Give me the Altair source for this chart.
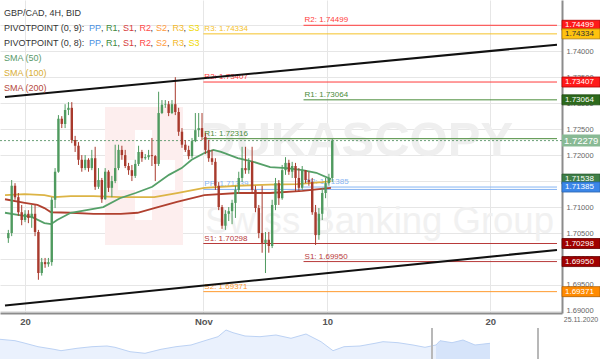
import altair as alt
import pandas as pd

FONT = "Liberation Sans"

# ---------------- candle data (GBP/CAD 4H) ----------------
first_open = 1.7040
closes = [1.7050, 1.7141, 1.7119, 1.7090, 1.7075, 1.7087, 1.7079, 1.7087, 1.7052, 1.6973,
          1.6994, 1.6990, 1.6994, 1.7114, 1.7168, 1.7270, 1.7260, 1.7287, 1.7291, 1.7229,
          1.7218, 1.7191, 1.7175, 1.7191, 1.7175, 1.7194, 1.7139, 1.7152, 1.7115, 1.7168,
          1.7137, 1.7150, 1.7175, 1.7210, 1.7200, 1.7179, 1.7171, 1.7160, 1.7183, 1.7206,
          1.7194, 1.7196, 1.7200, 1.7198, 1.7183, 1.7281, 1.7297, 1.7298, 1.7281, 1.7298,
          1.7283, 1.7245, 1.7220, 1.7210, 1.7198, 1.7227, 1.7248, 1.7252, 1.7235, 1.7210,
          1.7194, 1.7187, 1.7141, 1.7100, 1.7064, 1.7087, 1.7092, 1.7108, 1.7133, 1.7156,
          1.7175, 1.7171, 1.7187, 1.7133, 1.7098, 1.7050, 1.7031, 1.7037, 1.7025, 1.7104,
          1.7146, 1.7117, 1.7171, 1.7185, 1.7168, 1.7179, 1.7156, 1.7137, 1.7171, 1.7152,
          1.7148, 1.7090, 1.7046, 1.7087, 1.7127, 1.7146, 1.7156, 1.72279]
highs = [1.7056, 1.7152, 1.7146, 1.7127, 1.7104, 1.7094, 1.7094, 1.7104, 1.7104, 1.7056,
         1.7002, 1.7002, 1.7002, 1.7119, 1.7175, 1.7277, 1.7275, 1.7298, 1.7302, 1.7302,
         1.7237, 1.7225, 1.7200, 1.7200, 1.7194, 1.7210, 1.7216, 1.7175, 1.7156, 1.7175,
         1.7171, 1.7160, 1.7220, 1.7220, 1.7218, 1.7210, 1.7185, 1.7181, 1.7191, 1.7218,
         1.7210, 1.7202, 1.7210, 1.7233, 1.7200, 1.7322, 1.7306, 1.7306, 1.7304, 1.7306,
         1.7350, 1.7291, 1.7252, 1.7229, 1.7218, 1.7233, 1.7281, 1.7281, 1.7281, 1.7243,
         1.7229, 1.7210, 1.7194, 1.7148, 1.7104, 1.7094, 1.7100, 1.7114, 1.7141, 1.7168,
         1.7216, 1.7216, 1.7194, 1.7216, 1.7141, 1.7104, 1.7141, 1.7052, 1.7052, 1.7114,
         1.7156, 1.7152, 1.7181, 1.7196, 1.7191, 1.7187, 1.7185, 1.7175, 1.7179, 1.7171,
         1.7168, 1.7156, 1.7104, 1.7098, 1.7137, 1.7156, 1.7164, 1.7231]
lows = [1.7031, 1.7044, 1.7114, 1.7083, 1.7065, 1.7071, 1.7069, 1.7060, 1.7044, 1.6960,
        1.6968, 1.6983, 1.6985, 1.6987, 1.7098, 1.7166, 1.7252, 1.7252, 1.7277, 1.7223,
        1.7206, 1.7181, 1.7168, 1.7171, 1.7168, 1.7171, 1.7133, 1.7135, 1.7108, 1.7114,
        1.7129, 1.7119, 1.7146, 1.7171, 1.7191, 1.7175, 1.7162, 1.7150, 1.7156, 1.7179,
        1.7187, 1.7191, 1.7191, 1.7179, 1.7150, 1.7179, 1.7279, 1.7291, 1.7275, 1.7279,
        1.7277, 1.7237, 1.7214, 1.7206, 1.7192, 1.7194, 1.7225, 1.7235, 1.7229, 1.7202,
        1.7187, 1.7181, 1.7133, 1.7094, 1.7058, 1.7056, 1.7073, 1.7067, 1.7079, 1.7125,
        1.7148, 1.7164, 1.7164, 1.7127, 1.7090, 1.7040, 1.7012, 1.6973, 1.7012, 1.7021,
        1.7094, 1.7104, 1.7114, 1.7162, 1.7162, 1.7156, 1.7129, 1.7129, 1.7133, 1.7146,
        1.7141, 1.7085, 1.7027, 1.7037, 1.7075, 1.7117, 1.7141, 1.7148]

# x-axis (candle index) ticks and labels
x_tick_pos = [5.0, 58.4, 95.5, 144.3]
x_tick_labels = ["20", "Nov", "10", "20"]
y_tick_values = [1.690, 1.695, 1.700, 1.705, 1.710, 1.715, 1.720, 1.725, 1.730, 1.735, 1.740, 1.745]

# moving averages
sma50_k = [-1, 2.8, 7, 10.8, 12.8, 14.6, 18.7, 23.4, 28.4, 33.4, 38.1, 43.1, 48.1, 51.9, 54.9,
           58.7, 61.4, 63.7, 68.7, 73.4, 78.4, 83.4, 88.1, 92.2, 96.6]
sma50 = [1.7089, 1.7085, 1.7081, 1.7069, 1.7067, 1.7075, 1.7089, 1.7094, 1.7100, 1.7117,
         1.7127, 1.7139, 1.7162, 1.7175, 1.7191, 1.7204, 1.7210, 1.7206, 1.7194, 1.7187,
         1.7177, 1.7175, 1.7171, 1.7166, 1.71538]
sma100_k = [-1, 4.9, 10.8, 13.7, 18.7, 25.5, 33.7, 43.7, 50.5, 58.7, 68.7, 78.4, 86.4, 94, 96.6]
sma100 = [1.7123, 1.7125, 1.7123, 1.7119, 1.7121, 1.7121, 1.7119, 1.7119, 1.7127, 1.7137,
          1.7141, 1.7143, 1.7144, 1.7148, 1.7150]
sma200_k = [-1, 4.9, 8.7, 10.8, 12.8, 18.7, 25.5, 33.7, 38.7, 43.7, 50.5, 58.7, 68.7, 78.4, 88.1, 96.6]
sma200 = [1.7115, 1.7108, 1.7104, 1.7098, 1.7090, 1.7089, 1.7087, 1.7087, 1.7089, 1.7098,
          1.7110, 1.7123, 1.7127, 1.7127, 1.7131, 1.7137]

# pivot points
pivot9_names = ["R3", "R2", "R1", "PP", "S1", "S2"]
pivot9_values = [1.74334, 1.73407, 1.72316, 1.71339, 1.70298, 1.69371]
pivot9_start = 58.4
pivot8_names = ["R2", "R1", "PP", "S1"]
pivot8_values = [1.74499, 1.73064, 1.71385, 1.69950]
pivot8_start = 88.4
pivot_colors = {"R3": "#f5c228", "R2": "#ff3b3b", "R1": "#4a8c3a", "PP": "#86b4f2",
                "S1": "#b83a3a", "S2": "#ff9a2e"}

# channel lines
channel_k = [-1, 164.3]
upper_channel = [1.73119, 1.74126]
lower_channel = [1.69105, 1.70174]

last_price = 1.72279

# right-hand price tags
tag_values = [1.74499, 1.74334, 1.73407, 1.73064, 1.72279, 1.71538, 1.71385, 1.70298, 1.69950, 1.69371]
tag_bg = ["#ff1a1a", "#ffc20e", "#ff1a1a", "#2d6a1c", "#88b994", "#3f7f47", "#3b86e8",
          "#a00000", "#a00000", "#ff8a00"]
tag_border = ["#b00000", "#b07800", "#b00000", "#1c4a10", "#6a9a76", "#2a5a30", "#2a64b0",
              "#600000", "#600000", "#b06000"]
tag_fg = ["#ffffff", "#333333", "#ffffff", "#ffffff", "#ffffff", "#ffffff", "#ffffff",
          "#ffffff", "#ffffff", "#ffffff"]
tag_big = [False, False, False, False, True, False, False, False, False, False]

# navigator (overview) line
nav_pos = [0, 15, 23, 38, 54, 61, 77, 92, 107, 115, 130, 145, 161, 176, 191, 207, 218, 226, 233,
           245, 260, 276, 291, 306, 321, 333, 344, 360, 375, 383, 398, 413, 425, 436, 440, 452,
           463, 475, 490]
nav_level = [19.7, 18.3, 16.3, 12.3, 9.7, 8.3, 10.7, 12.3, 13, 11.7, 7.3, 5.7, 9.7, 12.3, 14, 19,
             22.3, 29, 26.3, 23, 22.3, 24, 20.7, 25, 17.3, 8.3, 12.3, 13, 15.7, 17.3, 16.3, 14,
             11.7, 14, 18.3, 16.3, 19, 14, 15.7]
nav_separators = [432, 538]

# legend texts
header = "GBP/CAD, 4H, BID"
pivot_rows = ["PIVOTPOINT (0, 9):", "PIVOTPOINT (0, 8):"]
codes = ["PP", "R1", "S1", "R2", "S2", "R3", "S3"]
code_colors = ["#4a90e2", "#3d8b3d", "#d63b3b", "#ff4a4a", "#ff9a3c", "#f2b92c", "#f0d800"]
sma_names = ["SMA (50)", "SMA (100)", "SMA (200)"]
sma_colors = ["#5a9a6a", "#d8ad35", "#b5493c"]
date_label = "25.11.2020"

GREEN = "#4f9a5f"
RED = "#a83a2d"

# ---------------- scales / axes ----------------
W, H = 562, 313
xscale = alt.Scale(domain=[-1, 164.3], nice=False, zero=False)
yscale = alt.Scale(domain=[1.6896, 1.74986], nice=False, zero=False)

expr = "''"
for pos, lab in reversed(list(zip(x_tick_pos, x_tick_labels))):
    expr = f"abs(datum.value - {pos}) < 0.5 ? '{lab}' : ({expr})"

xaxis = alt.Axis(values=x_tick_pos, labelExpr=expr, title=None, grid=True, gridColor="#e6e6e6",
                 ticks=False, domain=True, domainColor="#8c8c8c", domainWidth=2,
                 labelFont=FONT, labelFontSize=9.5, labelFontWeight="bold", labelColor="#555555",
                 labelPadding=3, zindex=0)
yaxis = alt.Axis(orient="right", values=y_tick_values, format=".5f", title=None, grid=True,
                 gridColor="#e6e6e6", ticks=False, domain=True, domainColor="#8c8c8c",
                 domainWidth=2, labelFont=FONT, labelFontSize=7.5, labelColor="#666666",
                 labelPadding=4, labelOverlap=False, zindex=0)


def X(f):
    return alt.X(f, type="quantitative", scale=xscale, axis=xaxis)


def Y(f):
    return alt.Y(f, type="quantitative", scale=yscale, axis=yaxis)


# ---------------- data frames ----------------
opens = [first_open] + closes[:-1]
candles = pd.DataFrame({"k": list(range(len(closes))), "open": opens, "close": closes,
                        "high": highs, "low": lows})
candles["col"] = [GREEN if c >= o else RED for o, c in zip(opens, closes)]

piv = pd.DataFrame({
    "name": pivot9_names + pivot8_names,
    "value": pivot9_values + pivot8_values,
    "start": [pivot9_start] * len(pivot9_names) + [pivot8_start] * len(pivot8_names),
    "end": [channel_k[1]] * (len(pivot9_names) + len(pivot8_names)),
})
piv["col"] = piv["name"].map(pivot_colors)
piv["label"] = [f"{n}: {v:.5f}" for n, v in zip(piv["name"], piv["value"])]

chan = pd.DataFrame({"k": channel_k * 2, "price": upper_channel + lower_channel,
                     "line": ["up", "up", "low", "low"]})

tags = pd.DataFrame({"value": tag_values, "bg": tag_bg, "fg": tag_fg, "bd": tag_border,
                     "big": tag_big})
tags["label"] = [f"{v:.5f}" for v in tag_values]

price_df = pd.DataFrame({"price": [last_price]})

# ---------------- main layer ----------------
price_rule = alt.Chart(price_df).mark_rule(color="#6a9f78", strokeDash=[2, 2], strokeWidth=1).encode(
    y=Y("price"))

piv_rules = alt.Chart(piv).mark_rule(strokeWidth=1).encode(
    x=X("start"), x2="end:Q", y=Y("value"), color=alt.Color("col:N", scale=None))
piv_labels = alt.Chart(piv).mark_text(align="left", baseline="bottom", dx=1, dy=-1,
                                      font=FONT, fontSize=8).encode(
    x=X("start"), y=Y("value"), text="label:N", color=alt.Color("col:N", scale=None))


def sma_line(ks, vals, color):
    d = pd.DataFrame({"k": ks, "v": vals})
    return alt.Chart(d).mark_line(color=color, strokeWidth=1.8).encode(x=X("k"), y=Y("v"))


smas = [sma_line(sma200_k, sma200, "#b0402f"),
        sma_line(sma100_k, sma100, "#dcb445"),
        sma_line(sma50_k, sma50, "#55a068")]

wicks = alt.Chart(candles).mark_rule(strokeWidth=1).encode(
    x=X("k"), y=Y("low"), y2="high:Q", color=alt.Color("col:N", scale=None))
bodies = alt.Chart(candles).mark_bar(size=2.4).encode(
    x=X("k"), y=Y("open"), y2="close:Q", color=alt.Color("col:N", scale=None))

chan_lines = alt.Chart(chan).mark_line(color="#111111", strokeWidth=2).encode(
    x=X("k"), y=Y("price"), detail="line:N")

tag_boxes_small = alt.Chart(tags[~tags.big]).mark_tick(size=38, thickness=10, opacity=1,
                                                       strokeWidth=0.8).encode(
    x=alt.value(581), y=Y("value"), color=alt.Color("bg:N", scale=None),
    stroke=alt.Stroke("bd:N", scale=None))
tag_boxes_big = alt.Chart(tags[tags.big]).mark_tick(size=38, thickness=12, opacity=1).encode(
    x=alt.value(581), y=Y("value"), color=alt.Color("bg:N", scale=None))
tag_text_small = alt.Chart(tags[~tags.big]).mark_text(align="left", baseline="middle", font=FONT,
                                                     fontSize=8).encode(
    x=alt.value(565), y=Y("value"), text="label:N", color=alt.Color("fg:N", scale=None))
tag_text_big = alt.Chart(tags[tags.big]).mark_text(align="left", baseline="middle", font=FONT,
                                                  fontSize=9.5).encode(
    x=alt.value(564), y=Y("value"), text="label:N", color=alt.Color("fg:N", scale=None))

main = alt.layer(price_rule, piv_rules, piv_labels, *smas, wicks, bodies, chan_lines,
                 tag_boxes_small, tag_boxes_big, tag_text_small, tag_text_big)

# ---------------- pixel-space helper scales ----------------
px_x = alt.Scale(domain=[0, 600], range=[0, 600], nice=False, zero=False)
px_y = alt.Scale(domain=[0, 359], range=[0, 359], nice=False, zero=False)

# watermark (decoration)
wm_rects = pd.DataFrame({"x": [105, 135, 118], "x2": [183, 152, 175], "y": [107, 130, 160],
                         "y2": [245, 220, 190], "c": ["#fdeeee", "#ffffff", "#ffffff"]})
wm_big = pd.DataFrame({"x": [200], "y": [141], "t": ["DUKASCOPY"]})
wm_small = pd.DataFrame({"x": [205], "y": [222], "t": ["Swiss Banking Group"]})
wm = alt.layer(
    alt.Chart(wm_rects).mark_rect().encode(
        x=alt.X("x:Q", scale=px_x, axis=None), x2="x2:Q",
        y=alt.Y("y:Q", scale=px_y, axis=None), y2="y2:Q", color=alt.Color("c:N", scale=None)),
    alt.Chart(wm_big).mark_text(align="left", baseline="middle", font=FONT, fontSize=49,
                                fontWeight="bold", color="#efefef").encode(
        x=alt.X("x:Q", scale=px_x, axis=None), y=alt.Y("y:Q", scale=px_y, axis=None), text="t:N"),
    alt.Chart(wm_small).mark_text(align="left", baseline="middle", font=FONT, fontSize=36.5,
                                  color="#f1f1f1").encode(
        x=alt.X("x:Q", scale=px_x, axis=None), y=alt.Y("y:Q", scale=px_y, axis=None), text="t:N"),
)

# ---------------- navigator ----------------
nav_df = pd.DataFrame({"pos": nav_pos, "lvl": nav_level})
nx = alt.Scale(domain=[0, 600], range=[0, 600], nice=False, zero=False)
ny = alt.Scale(domain=[0, 31], range=[359, 328], nice=False, zero=False)
nav = alt.layer(
    alt.Chart(nav_df).mark_area(color="#eaf1fd").encode(
        x=alt.X("pos:Q", scale=nx, axis=None), y=alt.Y("lvl:Q", scale=ny, axis=None)),
    alt.Chart(nav_df[nav_df.pos >= 436]).mark_area(color="#d6e4fa").encode(
        x=alt.X("pos:Q", scale=nx, axis=None), y=alt.Y("lvl:Q", scale=ny, axis=None)),
    alt.Chart(nav_df).mark_line(color="#bcd2f4", strokeWidth=1).encode(
        x=alt.X("pos:Q", scale=nx, axis=None), y=alt.Y("lvl:Q", scale=ny, axis=None)),
    alt.Chart(pd.DataFrame({"pos": nav_separators})).mark_rule(color="#b8b8b8", strokeWidth=2).encode(
        x=alt.X("pos:Q", scale=nx, axis=None), y=alt.value(328), y2=alt.value(359)),
)

# ---------------- overlay texts (legend, date) ----------------
rows = []
row_y = [13, 27.5, 43, 58, 73, 88]
rows.append((header, 4, row_y[0], "#333333"))
code_x = [89, 106, 123, 139.5, 156, 172.5, 188.5]
comma_x = [101, 117.5, 134, 150.5, 167, 183.5]
for i, pr in enumerate(pivot_rows):
    yy = row_y[1 + i]
    rows.append((pr, 4, yy, "#333333"))
    for c, cx, cc in zip(codes, code_x, code_colors):
        rows.append((c, cx, yy, cc))
    for cx in comma_x:
        rows.append((",", cx, yy, "#333333"))
for i, (nm, cc) in enumerate(zip(sma_names, sma_colors)):
    rows.append((nm, 4, row_y[3 + i], cc))
leg = pd.DataFrame(rows, columns=["t", "x", "y", "c"])

overlay = alt.layer(
    alt.Chart(leg).mark_text(align="left", baseline="middle", font=FONT, fontSize=9).encode(
        x=alt.X("x:Q", scale=px_x, axis=None), y=alt.Y("y:Q", scale=px_y, axis=None),
        text="t:N", color=alt.Color("c:N", scale=None)),
    alt.Chart(pd.DataFrame({"t": [date_label], "x": [581], "y": [320]})).mark_text(
        align="center", baseline="middle", font=FONT, fontSize=7, color="#666666").encode(
        x=alt.X("x:Q", scale=px_x, axis=None), y=alt.Y("y:Q", scale=px_y, axis=None), text="t:N"),
)

chart = alt.layer(wm, main, nav, overlay).resolve_scale(
    x="independent", y="independent"
).properties(
    width=W, height=H,
    autosize=alt.AutoSizeParams(type="none"),
    padding={"left": 0, "top": 0, "right": 38, "bottom": 46},
    background="white",
).configure_view(stroke=None)

chart.save("out.html", embed_options={"renderer": "svg", "actions": False})
